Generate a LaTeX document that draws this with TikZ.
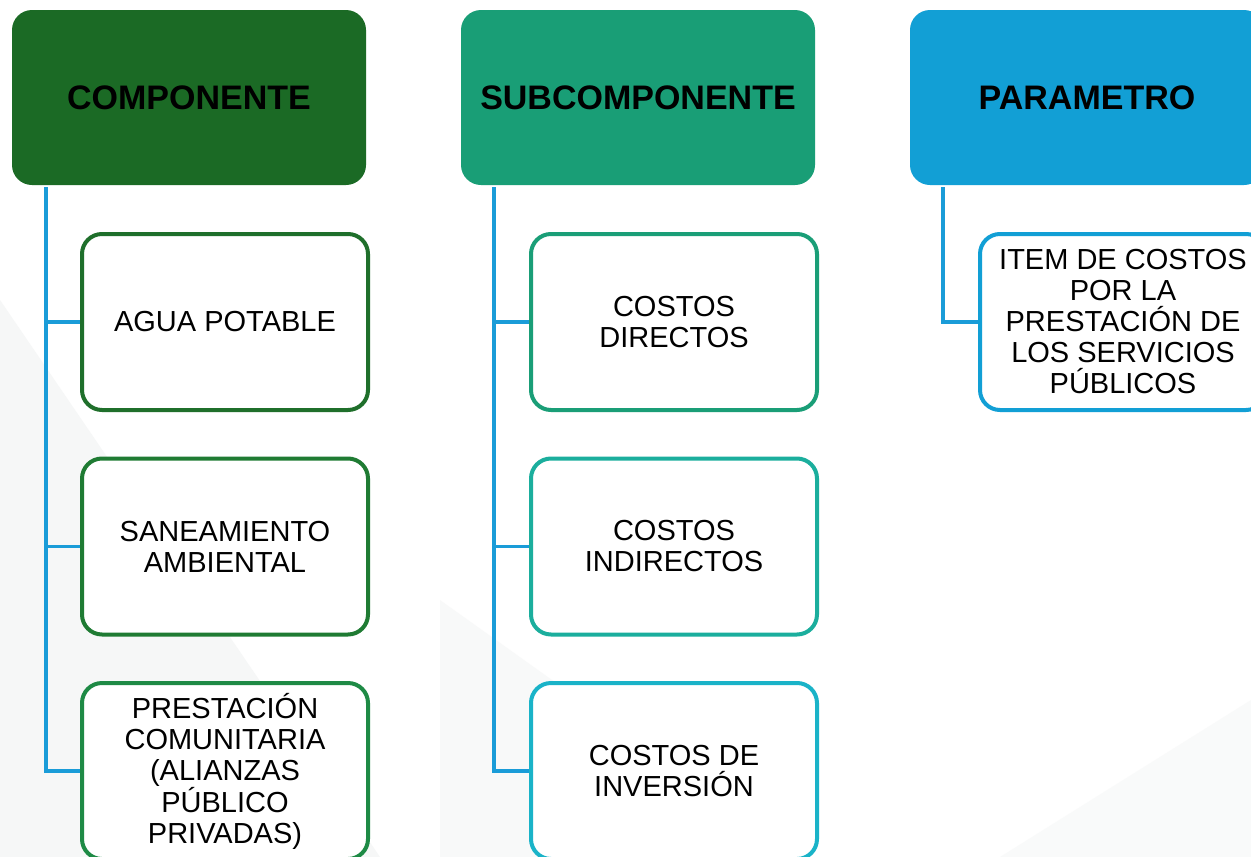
\documentclass[tikz,border=0pt]{standalone}
\usepackage{fontspec}
\setmainfont{Liberation Sans}
\definecolor{hdrA}{HTML}{1B6A25}
\definecolor{hdrB}{HTML}{199E76}
\definecolor{hdrC}{HTML}{129FD5}
\definecolor{bA1}{HTML}{1F6F2B}
\definecolor{bA2}{HTML}{1F7B33}
\definecolor{bA3}{HTML}{1E8A45}
\definecolor{bB1}{HTML}{1A9E77}
\definecolor{bB2}{HTML}{1BAE9D}
\definecolor{bB3}{HTML}{1AB3C8}
\definecolor{bC1}{HTML}{129FD5}
\definecolor{conncol}{HTML}{1A9CD8}
\definecolor{bgshade}{HTML}{F6F7F7}
\tikzset{
  hdrbox/.style={rounded corners=20pt, minimum width=354pt, minimum height=175pt,
    inner sep=0pt, font=\fontsize{34}{36}\selectfont\bfseries, text=black, draw=none},
  childbox/.style={rounded corners=20pt, minimum width=286pt, minimum height=176pt,
    inner sep=0pt, line width=4pt, fill=white, align=center,
    font=\fontsize{29}{31}\selectfont, text=black},
  conn/.style={draw=conncol, line width=3.5pt}
}
\begin{document}
\begin{tikzpicture}[x=1pt,y=-1pt]
\path[use as bounding box] (0,0) rectangle (1251,857);
\begin{scope}
\clip (0,0) rectangle (1251,857);
\fill[white] (0,0) rectangle (1251,857);
% faint background shading
\fill[bgshade] (0,300) -- (380,857) -- (0,857) -- cycle;
\fill[bgshade, opacity=0.7] (440,600) -- (800,857) -- (440,857) -- cycle;
\fill[bgshade, opacity=0.6] (1000,857) -- (1251,700) -- (1251,857) -- cycle;
% headers
\node[hdrbox, fill=hdrA] (h1) at (189,97.5) {COMPONENTE};
\node[hdrbox, fill=hdrB] (h2) at (638,97.5) {SUBCOMPONENTE};
\node[hdrbox, fill=hdrC] (h3) at (1087,97.5) {PARAMETRO};
% children
\node[childbox, draw=bA1] (a1) at (225,322) {AGUA POTABLE};
\node[childbox, draw=bA2] (a2) at (225,546.5) {SANEAMIENTO\\AMBIENTAL};
\node[childbox, draw=bA3] (a3) at (225,771) {PRESTACIÓN\\COMUNITARIA\\(ALIANZAS\\PÚBLICO\\PRIVADAS)};
\node[childbox, draw=bB1] (b1) at (674,322) {COSTOS\\DIRECTOS};
\node[childbox, draw=bB2] (b2) at (674,546.5) {COSTOS\\INDIRECTOS};
\node[childbox, draw=bB3] (b3) at (674,771) {COSTOS DE\\INVERSIÓN};
\node[childbox, draw=bC1] (c1) at (1123,322) {ITEM DE COSTOS\\POR LA\\PRESTACIÓN DE\\LOS SERVICIOS\\PÚBLICOS};
% connectors
\coordinate (ta) at ([xshift=34pt,yshift=-2pt]h1.south west);
\coordinate (tb) at ([xshift=33pt,yshift=-2pt]h2.south west);
\coordinate (tc) at ([xshift=33pt,yshift=-2pt]h3.south west);
\draw[conn] (ta) |- (a3.west);
\draw[conn] (ta) |- (a1.west);
\draw[conn] (ta) |- (a2.west);
\draw[conn] (tb) |- (b3.west);
\draw[conn] (tb) |- (b1.west);
\draw[conn] (tb) |- (b2.west);
\draw[conn] (tc) |- (c1.west);
\end{scope}
\end{tikzpicture}
\end{document}
